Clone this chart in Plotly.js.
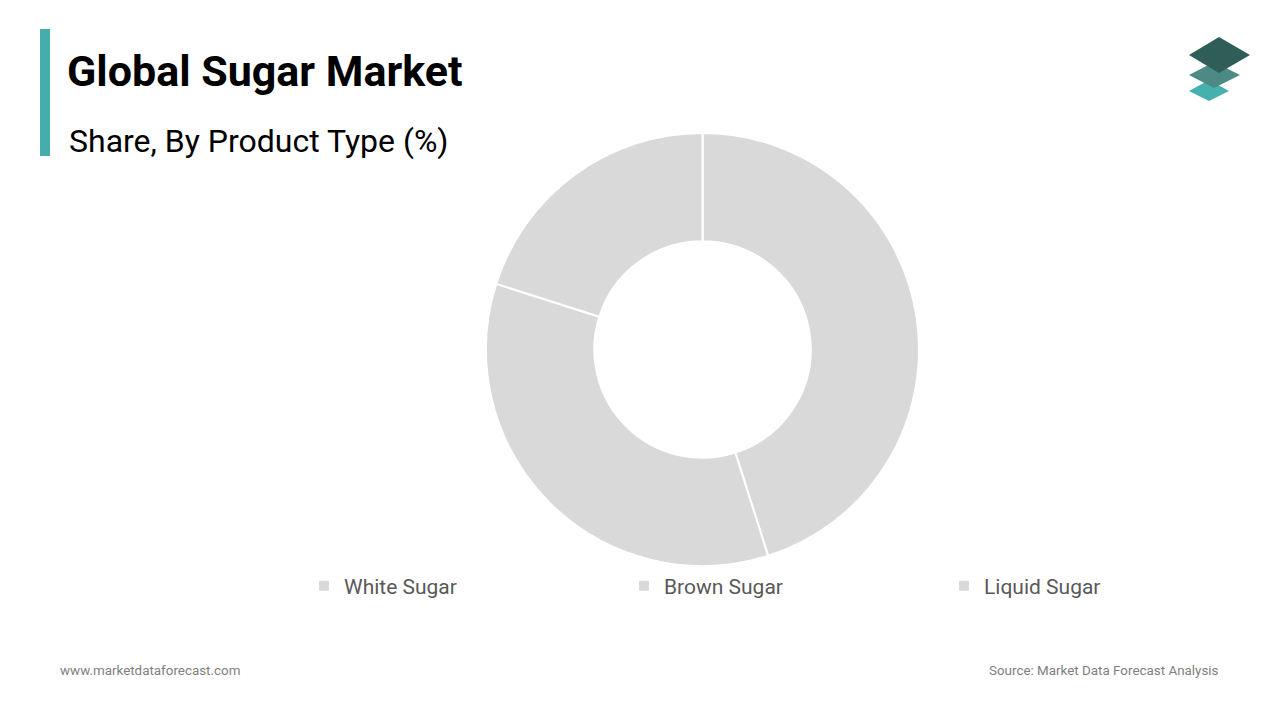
<!DOCTYPE html>
<html>
<head>
<meta charset="utf-8">
<script src="https://cdn.plot.ly/plotly-3.0.1.min.js"></script>
<style>html,body{margin:0;padding:0;background:#fff;}#chart{width:1280px;height:720px;}</style>
</head>
<body>
<div id="chart"></div>
<script>
const categories = ["White Sugar", "Brown Sugar", "Liquid Sugar"];
const shares = [45.1, 34.8, 20.1];
const sliceColors = ["#d9d9d9", "#d9d9d9", "#d9d9d9"];
const titleText = "Global Sugar Market";
const subtitleText = "Share, By Product Type (%)";
const footerLeft = "www.marketdataforecast.com";
const footerRight = "Source: Market Data Forecast Analysis";

const W = 1280, H = 720;
const px = x => x / W;
const py = y => 1 - y / H;
function poly(pts) {
  return "M" + pts.map(p => px(p[0]) + "," + py(p[1])).join("L") + "Z";
}

const trace = {
  type: "pie",
  labels: categories,
  values: shares,
  hole: 0.5,
  sort: false,
  direction: "clockwise",
  rotation: 0,
  textinfo: "none",
  hoverinfo: "label+percent",
  marker: { colors: sliceColors, line: { color: "#ffffff", width: 2 } },
  domain: { x: [px(486), px(919)], y: [py(566), py(133)] },
  showlegend: true
};

const layout = {
  width: W, height: H,
  margin: { l: 0, r: 0, t: 0, b: 0 },
  paper_bgcolor: "#ffffff",
  plot_bgcolor: "#ffffff",
  font: { family: "Roboto, sans-serif", color: "#595959" },
  title: {
    text: "<b>" + titleText + "</b>",
    x: px(67), xanchor: "left", xref: "paper",
    y: py(71), yanchor: "middle", yref: "paper",
    font: { family: "Roboto, sans-serif", size: 43, color: "#000000" }
  },
  showlegend: true,
  legend: {
    orientation: "h",
    x: px(304), xanchor: "left",
    y: py(586), yanchor: "middle",
    font: { family: "Roboto, sans-serif", size: 21, color: "#595959" },
    entrywidth: 275, entrywidthmode: "pixels",
    itemclick: false, itemdoubleclick: false
  },
  annotations: [
    { text: subtitleText, xref: "paper", yref: "paper", x: px(67), y: py(141),
      xanchor: "left", yanchor: "middle", showarrow: false,
      font: { family: "Roboto, sans-serif", size: 32, color: "#000000" } },
    { text: footerLeft, xref: "paper", yref: "paper", x: px(58), y: py(670),
      xanchor: "left", yanchor: "middle", showarrow: false,
      font: { family: "Roboto, sans-serif", size: 13.4, color: "#808080" } },
    { text: footerRight, xref: "paper", yref: "paper", x: px(1221), y: py(670),
      xanchor: "right", yanchor: "middle", showarrow: false,
      font: { family: "Roboto, sans-serif", size: 13.4, color: "#808080" } }
  ],
  shapes: [
    { type: "rect", xref: "paper", yref: "paper", x0: px(40), x1: px(50), y0: py(156), y1: py(29),
      fillcolor: "#45adab", line: { width: 0 } },
    { type: "path", xref: "paper", yref: "paper", path: poly([[1189,91],[1209,80],[1229,91],[1209,101]]),
      fillcolor: "#45b0ad", line: { width: 0 } },
    { type: "path", xref: "paper", yref: "paper", path: poly([[1189,75],[1214,62],[1240,75],[1214,88]]),
      fillcolor: "#4d8a86", line: { width: 0 } },
    { type: "path", xref: "paper", yref: "paper", path: poly([[1189,55],[1219,37],[1250,55],[1219,73]]),
      fillcolor: "#2f5e58", line: { width: 0 } }
  ]
};

Plotly.newPlot("chart", [trace], layout, { displayModeBar: false, staticPlot: false });
</script>
</body>
</html>
